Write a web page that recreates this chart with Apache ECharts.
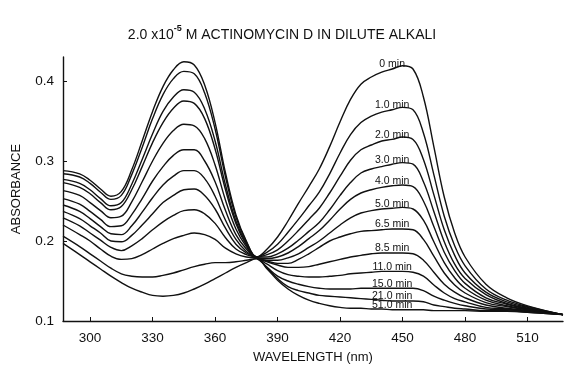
<!DOCTYPE html>
<html>
<head>
<meta charset="utf-8">
<script src="https://cdn.jsdelivr.net/npm/echarts@6/dist/echarts.min.js"></script>
<style>
  html, body { margin: 0; padding: 0; background: #fff; }
  #chart { width: 564px; height: 369px; }
</style>
</head>
<body>
<div id="chart"></div>
<script>
// wavelength grid (nm)
const wavelength = [287, 295, 300, 305, 310, 315, 320, 325, 330, 335, 340, 345, 350, 355, 360, 365, 370, 375, 380,
  385, 390, 395, 400, 405, 410, 415, 420, 425, 430, 435, 440, 445, 450, 455, 460, 465, 470, 475, 480, 490, 500, 510, 527]

// absorbance, one array per time
const abs0 = [0.288, 0.284, 0.276, 0.265, 0.256, 0.262, 0.289, 0.325, 0.362, 0.393, 0.414, 0.424, 0.420, 0.395, 0.348, 0.285, 0.233, 0.200, 0.180,
  0.190, 0.205, 0.225, 0.247, 0.268, 0.290, 0.318, 0.349, 0.377, 0.396, 0.405, 0.411, 0.415, 0.419, 0.415, 0.380, 0.318, 0.255, 0.210, 0.180, 0.146, 0.129, 0.119, 0.108]
const abs1 = [0.284, 0.280, 0.272, 0.261, 0.252, 0.257, 0.283, 0.317, 0.353, 0.383, 0.403, 0.412, 0.409, 0.385, 0.340, 0.280, 0.230, 0.199, 0.180,
  0.186, 0.196, 0.211, 0.227, 0.244, 0.261, 0.284, 0.310, 0.333, 0.348, 0.356, 0.361, 0.364, 0.367, 0.364, 0.335, 0.283, 0.231, 0.194, 0.169, 0.140, 0.126, 0.118, 0.108]
const abs2 = [0.277, 0.272, 0.264, 0.253, 0.244, 0.248, 0.271, 0.302, 0.334, 0.362, 0.380, 0.389, 0.386, 0.365, 0.325, 0.270, 0.225, 0.197, 0.180,
  0.183, 0.189, 0.200, 0.213, 0.227, 0.241, 0.260, 0.281, 0.301, 0.314, 0.320, 0.325, 0.327, 0.330, 0.327, 0.302, 0.258, 0.214, 0.182, 0.160, 0.136, 0.124, 0.117, 0.108]
const abs3 = [0.273, 0.267, 0.259, 0.248, 0.239, 0.243, 0.264, 0.293, 0.323, 0.348, 0.366, 0.375, 0.372, 0.353, 0.315, 0.264, 0.222, 0.195, 0.180,
  0.180, 0.184, 0.191, 0.201, 0.212, 0.223, 0.239, 0.257, 0.273, 0.285, 0.290, 0.293, 0.296, 0.298, 0.296, 0.274, 0.237, 0.199, 0.171, 0.153, 0.133, 0.122, 0.116, 0.108]
const abs4 = [0.263, 0.257, 0.248, 0.238, 0.229, 0.231, 0.249, 0.274, 0.300, 0.322, 0.338, 0.346, 0.344, 0.328, 0.295, 0.251, 0.215, 0.193, 0.179,
  0.178, 0.180, 0.185, 0.193, 0.203, 0.213, 0.226, 0.240, 0.252, 0.260, 0.264, 0.267, 0.269, 0.270, 0.268, 0.250, 0.218, 0.186, 0.163, 0.147, 0.129, 0.121, 0.115, 0.108]
const abs5 = [0.253, 0.246, 0.237, 0.227, 0.218, 0.219, 0.233, 0.253, 0.275, 0.293, 0.307, 0.314, 0.314, 0.300, 0.274, 0.238, 0.208, 0.190, 0.179,
  0.176, 0.176, 0.179, 0.184, 0.192, 0.200, 0.210, 0.220, 0.229, 0.235, 0.238, 0.240, 0.241, 0.242, 0.240, 0.226, 0.199, 0.173, 0.154, 0.141, 0.126, 0.119, 0.114, 0.108]
const abs65 = [0.245, 0.237, 0.228, 0.218, 0.209, 0.208, 0.219, 0.236, 0.254, 0.270, 0.281, 0.288, 0.288, 0.278, 0.256, 0.226, 0.202, 0.187, 0.179,
  0.175, 0.172, 0.172, 0.177, 0.184, 0.192, 0.200, 0.205, 0.209, 0.212, 0.213, 0.214, 0.215, 0.215, 0.214, 0.202, 0.181, 0.160, 0.145, 0.135, 0.123, 0.118, 0.114, 0.108]
const abs85 = [0.237, 0.228, 0.219, 0.210, 0.200, 0.199, 0.207, 0.220, 0.234, 0.248, 0.257, 0.264, 0.265, 0.257, 0.240, 0.216, 0.196, 0.185, 0.179,
  0.174, 0.170, 0.167, 0.167, 0.168, 0.171, 0.174, 0.177, 0.180, 0.182, 0.184, 0.185, 0.185, 0.185, 0.184, 0.176, 0.161, 0.146, 0.136, 0.129, 0.120, 0.116, 0.113, 0.108]
const abs11 = [0.229, 0.219, 0.210, 0.201, 0.192, 0.188, 0.194, 0.203, 0.214, 0.224, 0.232, 0.238, 0.239, 0.234, 0.222, 0.204, 0.190, 0.183, 0.179,
  0.171, 0.163, 0.158, 0.156, 0.155, 0.155, 0.156, 0.157, 0.159, 0.160, 0.161, 0.162, 0.162, 0.162, 0.161, 0.156, 0.145, 0.135, 0.128, 0.124, 0.117, 0.115, 0.112, 0.108]
const abs15 = [0.220, 0.208, 0.200, 0.190, 0.181, 0.177, 0.178, 0.183, 0.190, 0.197, 0.203, 0.207, 0.210, 0.208, 0.202, 0.191, 0.184, 0.180, 0.178,
  0.167, 0.156, 0.150, 0.146, 0.143, 0.141, 0.140, 0.140, 0.140, 0.141, 0.141, 0.141, 0.141, 0.141, 0.141, 0.138, 0.131, 0.126, 0.122, 0.119, 0.115, 0.114, 0.112, 0.108]
const abs21 = [0.206, 0.193, 0.184, 0.175, 0.166, 0.159, 0.156, 0.155, 0.155, 0.157, 0.160, 0.164, 0.168, 0.171, 0.173, 0.173, 0.174, 0.176, 0.178,
  0.166, 0.153, 0.143, 0.138, 0.135, 0.132, 0.131, 0.130, 0.129, 0.128, 0.127, 0.126, 0.125, 0.125, 0.125, 0.124, 0.120, 0.118, 0.116, 0.115, 0.113, 0.113, 0.111, 0.108]
const abs51 = [0.197, 0.183, 0.174, 0.165, 0.156, 0.148, 0.141, 0.136, 0.132, 0.131, 0.132, 0.135, 0.140, 0.146, 0.153, 0.160, 0.167, 0.173, 0.178,
  0.165, 0.151, 0.140, 0.132, 0.126, 0.122, 0.119, 0.117, 0.116, 0.116, 0.115, 0.115, 0.114, 0.114, 0.114, 0.114, 0.113, 0.113, 0.113, 0.113, 0.112, 0.112, 0.111, 0.108]

const timeLabels = ['0 min', '1.0 min', '2.0 min', '3.0 min', '4.0 min', '5.0 min', '6.5 min', '8.5 min', '11.0 min', '15.0 min', '21.0 min', '51.0 min']
const curves = [abs0, abs1, abs2, abs3, abs4, abs5, abs65, abs85, abs11, abs15, abs21, abs51]

const xTicks = [300, 330, 360, 390, 420, 450, 480, 510]
const yTicks = [0.1, 0.2, 0.3, 0.4]

// curve labels sit on top of each curve at this wavelength
const labelAt = 445

const font = 'Liberation Sans'
const chart = echarts.init(document.getElementById('chart'), null, { renderer: 'canvas' })

const series = curves.map((arr, k) => {
  const idx = wavelength.indexOf(labelAt)
  return {
    name: timeLabels[k],
    type: 'line',
    smooth: 0.4,
    symbol: 'none',
    animation: false,
    lineStyle: { color: '#111', width: 1.4 },
    data: wavelength.map((w, i) => [w, arr[i]]),
    markPoint: {
      symbol: 'circle',
      symbolSize: 0,
      silent: true,
      label: {
        show: true,
        position: 'top',
        distance: -1,
        formatter: timeLabels[k],
        color: '#111',
        fontFamily: font,
        fontSize: 10.5
      },
      data: [{ coord: [labelAt, arr[idx]] }]
    }
  }
})

chart.setOption({
  backgroundColor: '#fff',
  title: {
    text: '{a|2.0 x10}{s|-5}{a| M ACTINOMYCIN D IN DILUTE ALKALI}',
    left: 'center',
    top: 19,
    textStyle: {
      rich: {
        a: { fontFamily: font, fontSize: 14, fontWeight: 'normal', color: '#111', lineHeight: 18, verticalAlign: 'bottom' },
        s: { fontFamily: font, fontSize: 9, fontWeight: 'bold', color: '#111', lineHeight: 18, verticalAlign: 'top' }
      }
    }
  },
  grid: { left: 63, right: 1, top: 57, bottom: 45 },
  xAxis: {
    type: 'value',
    min: 287,
    max: 527,
    name: 'WAVELENGTH (nm)',
    nameLocation: 'middle',
    nameGap: 30,
    nameTextStyle: { fontFamily: font, fontSize: 13, color: '#111' },
    axisLine: { show: true, lineStyle: { color: '#111', width: 1.4 } },
    axisTick: { show: true, inside: true, length: 4, customValues: xTicks, lineStyle: { color: '#111' } },
    axisLabel: { customValues: xTicks, fontFamily: font, fontSize: 13.5, color: '#111', margin: 10 },
    splitLine: { show: false }
  },
  yAxis: {
    type: 'value',
    min: 0.1,
    max: 0.43,
    name: 'ABSORBANCE',
    nameLocation: 'middle',
    nameGap: 40,
    nameTextStyle: { fontFamily: font, fontSize: 13, color: '#111' },
    axisLine: { show: true, lineStyle: { color: '#111', width: 1.4 } },
    axisTick: { show: true, inside: true, length: 4, customValues: yTicks, lineStyle: { color: '#111' } },
    axisLabel: {
      customValues: yTicks,
      fontFamily: font,
      fontSize: 13.5,
      color: '#111',
      margin: 9,
      formatter: v => v.toFixed(1)
    },
    splitLine: { show: false }
  },
  series
})
</script>
</body>
</html>
